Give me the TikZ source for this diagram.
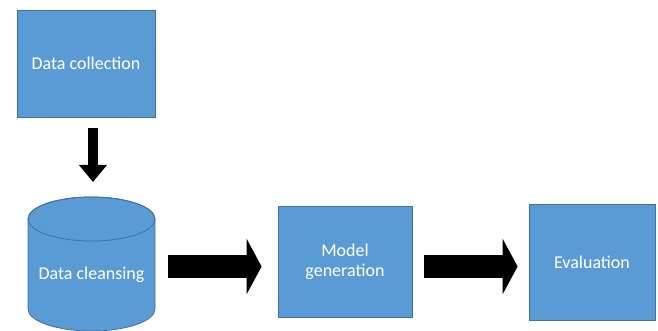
\documentclass[tikz,border=0pt]{standalone}
\usepackage{fontspec}
\setmainfont{Carlito}
\usetikzlibrary{arrows.meta}
\definecolor{boxblue}{HTML}{5B9BD5}
\definecolor{edgeblue}{HTML}{41719C}
\begin{document}
\begin{tikzpicture}[x=1pt,y=1pt,
  box/.style={draw=edgeblue, fill=boxblue, line width=0.8pt, text=white,
    font=\fontsize{18}{20}\selectfont, align=center, inner sep=0pt},
  label/.style={text=white, font=\fontsize{18}{20}\selectfont, align=center, inner sep=0pt},
  downarrow/.style={line width=10pt, -{Triangle[width=27pt,length=17pt]}},
  rightarrow/.style={line width=23pt, -{Triangle[width=55pt,length=15pt]}}]
\useasboundingbox (0,0) rectangle (658,331);
% Data collection
\node[box, minimum width=138pt, minimum height=107pt] (collect) at (86,267.5) {Data collection};
% Cylinder
\path[draw=edgeblue, fill=boxblue, line width=0.8pt]
  (28,112) -- (28,22) arc[start angle=180, end angle=360, x radius=63.5pt, y radius=22pt]
  -- (155,112) arc[start angle=0, end angle=180, x radius=63.5pt, y radius=22pt] -- cycle;
\draw[edgeblue, line width=0.8pt] (91.5,112) ellipse [x radius=63.5pt, y radius=22pt];
\node[label] (cleanse) at (91.5,56) {Data cleansing};
\coordinate (cyltop) at (91.5,134);
\coordinate (cylright) at (155,64.5);
% Model generation
\node[box, minimum width=134pt, minimum height=111pt] (model) at (345,69.5) {Model\\generation};
% Evaluation
\node[box, minimum width=126pt, minimum height=116pt] (eval) at (592,69) {Evaluation};
% Arrows
\draw[downarrow] ([xshift=7pt,yshift=-11pt]collect.south) -- ([xshift=1.5pt,yshift=15pt]cyltop);
\draw[rightarrow] ([xshift=13pt]cylright) -- ([xshift=-16pt,yshift=-5pt]model.west);
\draw[rightarrow] ([xshift=12pt,yshift=-5pt]model.east) -- ([xshift=-11pt,yshift=-4.5pt]eval.west);
\end{tikzpicture}
\end{document}
